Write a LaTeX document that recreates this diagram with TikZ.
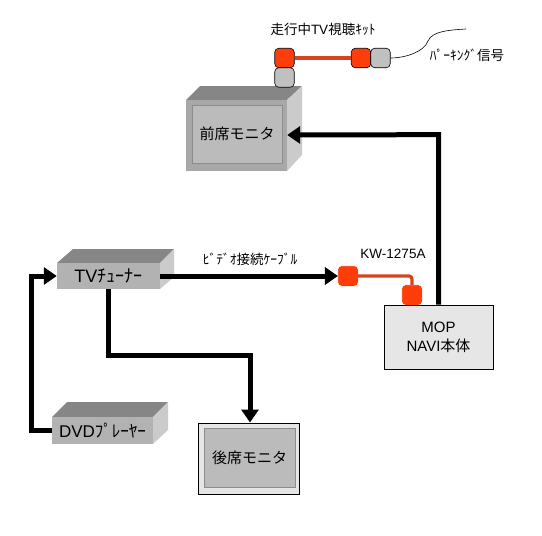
\documentclass[tikz,border=0pt]{standalone}
\usepackage{fontspec}
\setmainfont{Liberation Sans}
\newfontfamily\cjk{Noto Sans CJK JP}
\usetikzlibrary{arrows.meta, positioning, calc}
\definecolor{plugRed}{HTML}{FF3D0A}
\definecolor{wireRed}{HTML}{D8431E}
\definecolor{plugGrey}{HTML}{C0C0C0}
\definecolor{faceGrey}{HTML}{B2B2B2}
\definecolor{screenGrey}{HTML}{BBBBBB}
\definecolor{frameGrey}{HTML}{A8A8A8}
\definecolor{topGrey}{HTML}{868686}
\definecolor{sideGrey}{HTML}{CBCBCB}
\definecolor{bodyGrey}{HTML}{E6E6E6}

\begin{document}
\begin{tikzpicture}[x=1pt, y=-1pt,
   face/.style={rectangle, fill=faceGrey, inner sep=0pt},
   screen/.style={rectangle, fill=screenGrey, draw=black!45, line width=0.8pt, inner sep=0pt,
                  font=\fontsize{15}{17}\selectfont\cjk},
   plug/.style={rectangle, draw=black, rounded corners=4pt, minimum size=19.5pt,
                inner sep=0pt, line width=0.6pt},
   lbl/.style={font=\fontsize{13.5}{15}\selectfont, inner sep=0pt},
   cable/.style={line width=5pt, line join=miter},
   arrowcable/.style={cable, -{Triangle[length=13pt, width=17pt]}},
   redwire/.style={wireRed, line width=3.2pt, rounded corners=3pt}]

\useasboundingbox (0,0) rectangle (542,536);

% front monitor
\fill[topGrey] (186,100) -- (200,86) -- (302,86) -- (287,100) -- cycle;
\fill[sideGrey] (287,100) -- (302,86) -- (302,155) -- (287,171) -- cycle;
\node[face, fill=frameGrey, minimum width=101pt, minimum height=71pt] (frontcase) at (236.5,135.5) {};
\node[screen, minimum width=90pt, minimum height=58pt] (front) at (237,134) {前席モニタ};

% rear monitor
\node[rectangle, draw=black, fill=bodyGrey, line width=1pt, minimum width=101pt, minimum height=71pt] (rearcase) at (248.5,458.5) {};
\node[screen, minimum width=91pt, minimum height=59pt] (rear) at (249.5,457.5) {後席モニタ};

% tuner
\fill[topGrey] (57,263) -- (73,249) -- (174,249) -- (160,263) -- cycle;
\fill[sideGrey] (160,263) -- (174,249) -- (174,277) -- (160,289) -- cycle;
\node[face, font=\fontsize{18}{20}\selectfont, minimum width=103pt, minimum height=26pt] (tuner) at (108.5,276) {TV{\cjk ﾁｭｰﾅｰ}};

% dvd player
\fill[topGrey] (52,417) -- (67,402) -- (168,402) -- (153,417) -- cycle;
\fill[sideGrey] (153,417) -- (168,402) -- (168,430) -- (153,444) -- cycle;
\node[face, font=\fontsize{17}{19}\selectfont, minimum width=101pt, minimum height=27pt] (dvd) at (102.5,430.5) {DVD{\cjk ﾌﾟﾚｰﾔｰ}};

% navi unit
\node[rectangle, draw=black, fill=bodyGrey, line width=0.7pt, minimum width=109pt, minimum height=64pt,
      align=center, inner sep=0pt, font=\fontsize{15}{19}\selectfont] (navi) at (438.5,337) {MOP\\NAVI{\cjk 本体}};

% plugs
\node[plug, fill=plugRed] (kitA) at (284.5,58) {};
\node[plug, fill=plugGrey] (kitB) at (284.5,77.5) {};
\node[plug, fill=plugRed] (kitC) at (361,58) {};
\node[plug, fill=plugGrey] (kitD) at (380.5,58) {};
\node[plug, fill=plugRed, draw=plugRed] (kwA) at (348,276) {};
\node[plug, fill=plugRed, draw=plugRed] (kwB) at (412,295) {};

% cables
\draw[redwire] (kitA.east) -- (kitC.west);
\draw[redwire] (kwA.east) -| (kwB.north);
\draw[line width=0.6pt] (kitD.east) .. controls (405,58) and (424,52) .. (428,41)
   .. controls (432,31) and (450,30) .. (466,29);
\draw[arrowcable] (tuner.east) -- (kwA.west);
\draw[arrowcable] (navi.north) -- ++(0,-170) -- (frontcase.east |- 0,135);
\draw[arrowcable] (tuner.south) -- ++(0,66) -| ([xshift=1.5pt]rearcase.north);
\draw[arrowcable] (dvd.west) -- ++(-20,0) |- (tuner.west);

% labels
\node[lbl] (kitlabel) at (323,29) {{\cjk 走行中}TV{\cjk 視聴ｷｯﾄ}};
\node[lbl] (parklabel) at (467,55) {\cjk ﾊﾟｰｷﾝｸﾞ信号};
\node[lbl] (videolabel) at (250,259) {\cjk ﾋﾞﾃﾞｵ接続ｹｰﾌﾞﾙ};
\node[lbl] (kwlabel) at (393,254) {KW-1275A};
\end{tikzpicture}
\end{document}
